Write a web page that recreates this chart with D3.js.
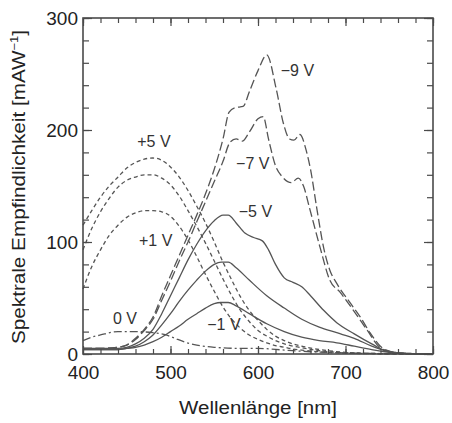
<!DOCTYPE html>
<html><head><meta charset="utf-8">
<script src="https://cdn.jsdelivr.net/npm/d3@7"></script>
<style>html,body{margin:0;padding:0;background:#fff;}svg{display:block;}</style>
</head><body>
<svg id="chart" width="452" height="423"></svg>
<script>
// ---- data ----
const xTicks = [400, 500, 600, 700, 800];
const yTicks = [0, 100, 200, 300];

const wl_m9 = [400,420,440,450,460,470,480,490,500,510,520,530,540,550,560,567,574,583,590,600,610,621,629,636,641,648,655,660,667,675,682,690,705,717,728,743,760,780,800];
const v_m9  = [5,5,6,8,14,22,33,52,70,88,106,124,143,165,192,216,220,221,234,253,267,236,206,192,191,196,182,165,131,95,75,63,46,33,19,5,1,0.3,0];

const wl_m7 = [400,420,440,450,460,470,480,490,500,510,520,530,540,550,560,568,575,582,590,600,606,612,620,628,638,646,652,659,671,682,694,709,725,739,755,780,800];
const v_m7  = [5,5,6,8,13,21,31,48,65,83,100,118,136,154,172,189,192,190,198,210,212,192,168,158,153,157,150,130,95,66,55,39,21,6,1.5,0.3,0];

const wl_m5 = [400,420,440,450,460,470,480,490,500,510,520,530,540,550,560,566,575,585,595,605,612,620,630,640,650,660,675,690,710,730,745,760,780,800];
const v_m5  = [5,5,5,6,9,14,22,36,52,68,84,98,110,119,124,124,117,108,104,101,93,80,68,64,60,52,39,28,18,9,3,1,0.3,0];

const wl_m3 = [400,440,450,460,470,480,490,500,510,520,530,540,550,558,566,575,590,610,630,650,670,690,710,730,745,760,780,800];
const v_m3  = [4,4,5,7,11,17,26,36,47,57,66,74,80,82,82,77,66,52,41,31,24,19,14,7,3,1,0.3,0];

const wl_m1 = [400,440,450,460,470,480,490,500,510,520,530,540,550,558,566,575,590,610,630,650,670,690,710,730,745,760,780,800];
const v_m1  = [4,4,5,6,8,11,15,20,25,31,36,41,45,46,46,43,36,27,20,15,12,10,7,4,2,0.8,0.2,0];

const wl_0 = [400,410,420,440,460,480,495,505,515,530,550,580,600,630,660,700,740,800];
const v_0  = [12,15,17,20,20,19,17,14,11,8,6,5,5,3.5,2,1,0.4,0];

const wl_pos = [400,410,420,430,440,450,460,470,480,490,500,510,520,530,540,550,560,570,580,590,600,610,620,630,640,650,670,700,730,760,800];
const v_p5 = [115,128,140,150,158,166,171,174,175,173,167,158,146,132,117,100,82,66,51,39,30,22,16,12,9,7,4,1.5,0.5,0.2,0];
const v_p3 = [93,112,127,139,149,155,158,160,160,157,151,141,128,114,99,83,67,52,39,29,21,16,12,9,7,5.5,3,1,0.4,0.1,0];
const v_p1 = [58,78,93,106,115,122,126,128,128,127,123,114,102,87,71,56,42,31,23,17,13,10,7.5,6,4.5,3.5,2,0.8,0.3,0.1,0];

const labels = [
  {t:"\u22129 V", x:645, y:253},
  {t:"\u22127 V", x:594, y:170},
  {t:"\u22125 V", x:597, y:127},
  {t:"\u22121 V", x:561, y:26},
  {t:"0 V",      x:448, y:32},
  {t:"+5 V",     x:481, y:190},
  {t:"+1 V",     x:483, y:101}
];

// ---- chart ----
const svg = d3.select("#chart");
const x = d3.scaleLinear().domain([400, 800]).range([83, 433]);
const y = d3.scaleLinear().domain([0, 300]).range([354, 18]);
const ink = "#4a4a4a";
const font = "'Liberation Sans', Arial, sans-serif";

function series(wl, v, dash) {
  const pts = wl.map((w, i) => [w, v[i]]);
  svg.append("path")
    .datum(pts)
    .attr("fill", "none")
    .attr("stroke", "#555")
    .attr("stroke-width", 1.3)
    .attr("stroke-dasharray", dash)
    .attr("d", d3.line().x(d => x(d[0])).y(d => y(d[1])).curve(d3.curveMonotoneX));
}

const longDash = "9,3.5", shortDash = "4,3", dashDot = "8,3,2,3";
series(wl_0, v_0, dashDot);
series(wl_pos, v_p5, shortDash);
series(wl_pos, v_p3, shortDash);
series(wl_pos, v_p1, shortDash);
series(wl_m1, v_m1, null);
series(wl_m3, v_m3, null);
series(wl_m5, v_m5, null);
series(wl_m7, v_m7, longDash);
series(wl_m9, v_m9, longDash);

// axes: minor + major ticks on all four sides, inward
function styleAxis(g) {
  g.selectAll("path.domain").remove();
  g.selectAll("line").attr("stroke", ink).attr("stroke-width", 1.2);
  g.selectAll("text").attr("fill", "#222").style("font-family", font).style("font-size", "19px");
}
const xMinor = d3.range(400, 801, 20), yMinor = d3.range(0, 301, 20);

svg.append("g").attr("transform", `translate(0,${y(0)})`)
  .call(d3.axisBottom(x).tickValues(xMinor).tickSize(-5).tickFormat(""))
  .call(styleAxis);
svg.append("g").attr("transform", `translate(0,${y(0)})`)
  .call(d3.axisBottom(x).tickValues(xTicks).tickSize(-8).tickPadding(12).tickFormat(d3.format("d")))
  .call(styleAxis);
svg.append("g").attr("transform", `translate(0,${y(300)})`)
  .call(d3.axisTop(x).tickValues(xMinor).tickSize(-5).tickFormat(""))
  .call(styleAxis);
svg.append("g").attr("transform", `translate(0,${y(300)})`)
  .call(d3.axisTop(x).tickValues(xTicks).tickSize(-8).tickFormat(""))
  .call(styleAxis);

svg.append("g").attr("transform", `translate(${x(400)},0)`)
  .call(d3.axisLeft(y).tickValues(yMinor).tickSize(-6).tickFormat(""))
  .call(styleAxis);
svg.append("g").attr("transform", `translate(${x(400)},0)`)
  .call(d3.axisLeft(y).tickValues(yTicks).tickSize(-9).tickPadding(5).tickFormat(d3.format("d")))
  .call(styleAxis);
svg.append("g").attr("transform", `translate(${x(800)},0)`)
  .call(d3.axisRight(y).tickValues(yMinor).tickSize(-6).tickFormat(""))
  .call(styleAxis);
svg.append("g").attr("transform", `translate(${x(800)},0)`)
  .call(d3.axisRight(y).tickValues(yTicks).tickSize(-9).tickFormat(""))
  .call(styleAxis);

// frame
svg.append("rect")
  .attr("x", x(400)).attr("y", y(300))
  .attr("width", x(800) - x(400)).attr("height", y(0) - y(300))
  .attr("fill", "none").attr("stroke", ink).attr("stroke-width", 1.6);

// curve labels
svg.append("g").selectAll("text").data(labels).join("text")
  .attr("x", d => x(d.x)).attr("y", d => y(d.y))
  .attr("text-anchor", "middle").attr("dominant-baseline", "central")
  .style("font-family", font).style("font-size", "16px").attr("fill", "#333")
  .text(d => d.t);

// axis titles
svg.append("text")
  .attr("x", 258).attr("y", 414)
  .attr("text-anchor", "middle")
  .attr("textLength", 158).attr("lengthAdjust", "spacingAndGlyphs")
  .style("font-family", font).style("font-size", "17.5px").attr("fill", "#222")
  .text("Wellenlänge [nm]");

const yt = svg.append("text")
  .attr("transform", "translate(25,187) rotate(-90)")
  .attr("text-anchor", "middle")
  .attr("textLength", 314).attr("lengthAdjust", "spacingAndGlyphs")
  .style("font-family", font).style("font-size", "17.5px").attr("fill", "#222");
yt.append("tspan").text("Spektrale Empfindlichkeit [mAW");
yt.append("tspan").attr("dy", -7).style("font-size", "11px").text("\u22121");
yt.append("tspan").attr("dy", 7).text("]");
</script>
</body></html>
